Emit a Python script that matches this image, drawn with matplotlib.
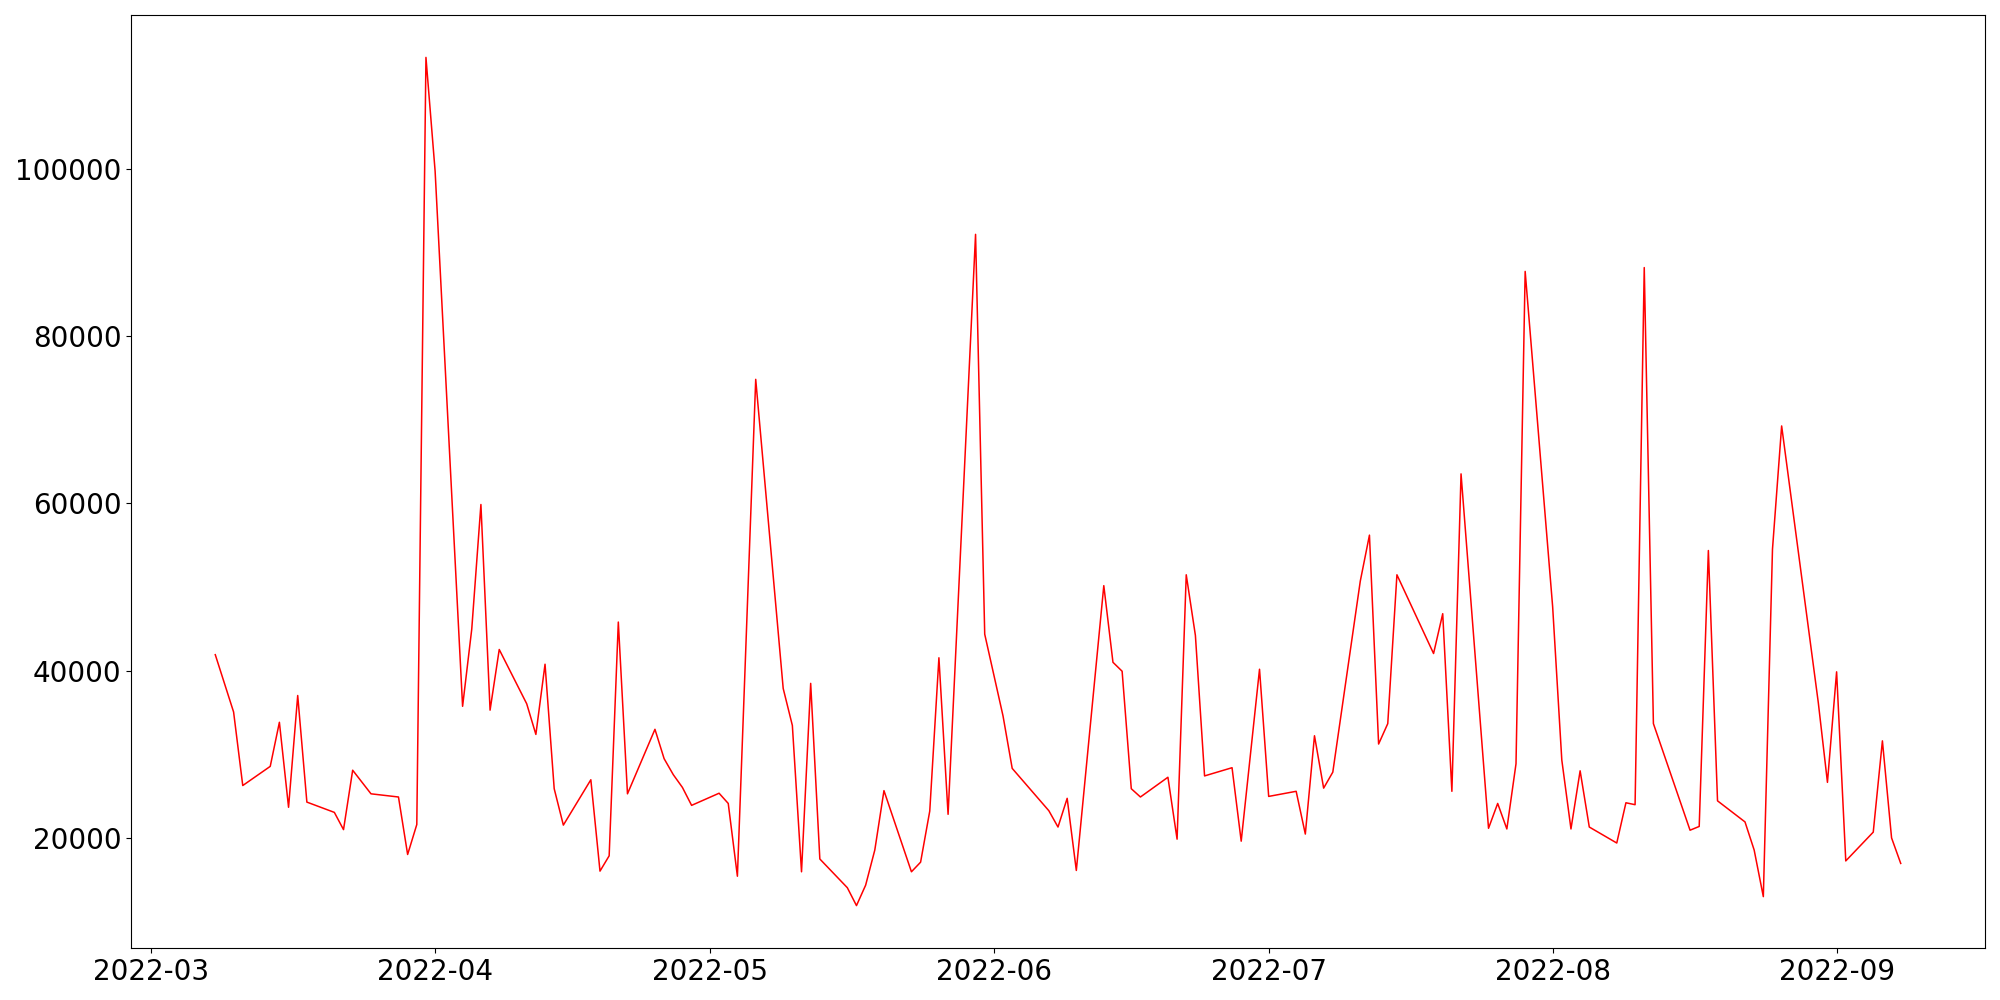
import matplotlib
matplotlib.use("Agg")
import matplotlib.pyplot as plt
import pandas as pd

dates = [
    "2022-03-08", "2022-03-10", "2022-03-11", "2022-03-14", "2022-03-15", "2022-03-16",
    "2022-03-17", "2022-03-18", "2022-03-21", "2022-03-22", "2022-03-23", "2022-03-25",
    "2022-03-28", "2022-03-29", "2022-03-30", "2022-03-31", "2022-04-01", "2022-04-04",
    "2022-04-05", "2022-04-06", "2022-04-07", "2022-04-08", "2022-04-11", "2022-04-12",
    "2022-04-13", "2022-04-14", "2022-04-15", "2022-04-18", "2022-04-19", "2022-04-20",
    "2022-04-21", "2022-04-22", "2022-04-25", "2022-04-26", "2022-04-27", "2022-04-28",
    "2022-04-29", "2022-05-02", "2022-05-03", "2022-05-04", "2022-05-06", "2022-05-09",
    "2022-05-10", "2022-05-11", "2022-05-12", "2022-05-13", "2022-05-16", "2022-05-17",
    "2022-05-18", "2022-05-19", "2022-05-20", "2022-05-23", "2022-05-24", "2022-05-25",
    "2022-05-26", "2022-05-27", "2022-05-30", "2022-05-31", "2022-06-02", "2022-06-03",
    "2022-06-07", "2022-06-08", "2022-06-09", "2022-06-10", "2022-06-13", "2022-06-14",
    "2022-06-15", "2022-06-16", "2022-06-17", "2022-06-20", "2022-06-21", "2022-06-22",
    "2022-06-23", "2022-06-24", "2022-06-27", "2022-06-28", "2022-06-30", "2022-07-01",
    "2022-07-04", "2022-07-05", "2022-07-06", "2022-07-07", "2022-07-08", "2022-07-11",
    "2022-07-12", "2022-07-13", "2022-07-14", "2022-07-15", "2022-07-19", "2022-07-20",
    "2022-07-21", "2022-07-22", "2022-07-25", "2022-07-26", "2022-07-27", "2022-07-28",
    "2022-07-29", "2022-08-01", "2022-08-02", "2022-08-03", "2022-08-04", "2022-08-05",
    "2022-08-08", "2022-08-09", "2022-08-10", "2022-08-11", "2022-08-12", "2022-08-16",
    "2022-08-17", "2022-08-18", "2022-08-19", "2022-08-22", "2022-08-23", "2022-08-24",
    "2022-08-25", "2022-08-26", "2022-08-30", "2022-08-31", "2022-09-01", "2022-09-02",
    "2022-09-05", "2022-09-06", "2022-09-07", "2022-09-08",
]

values = [
    41900, 35050, 26260, 28550, 33820, 23660,
    37020, 24280, 23050, 20990, 28090, 25270,
    24890, 18020, 21600, 113290, 99700, 35730,
    44960, 59850, 35270, 42520, 36030, 32370,
    40760, 25880, 21530, 26950, 16030, 17860,
    45800, 25270, 32980, 29470, 27560, 26030,
    23890, 25340, 24120, 15420, 74810, 37860,
    33440, 15950, 38470, 17480, 14050, 11910,
    14350, 18550, 25650, 15950, 17100, 23210,
    41530, 22820, 92140, 44350, 34570, 28310,
    23250, 21300, 24730, 16110, 50150, 40990,
    39920, 25880, 24890, 27250, 19850, 51450,
    44200, 27410, 28390, 19610, 40160, 24960,
    25570, 20460, 32210, 25950, 27860, 50690,
    56190, 31220, 33660, 51450, 42040, 46800,
    25570, 63510, 21150, 24120, 21070, 28860,
    87710, 47640, 29310, 21070, 28020, 21300,
    19390, 24200, 23970, 88170, 33660, 20920,
    21370, 54350, 24430, 21910, 18550, 12980,
    54510, 69240, 36180, 26640, 39850, 17250,
    20690, 31600, 20000, 16950,
]

x = pd.to_datetime(dates)

fig = plt.figure(figsize=(20, 10), dpi=100)
ax = fig.add_subplot(111)
ax.plot(x, values, color="red", linewidth=1.1)
ax.tick_params(axis="both", labelsize=20)
fig.subplots_adjust(left=0.0655, right=0.9925, top=0.985, bottom=0.052)
fig.savefig("out.png", dpi=100)
